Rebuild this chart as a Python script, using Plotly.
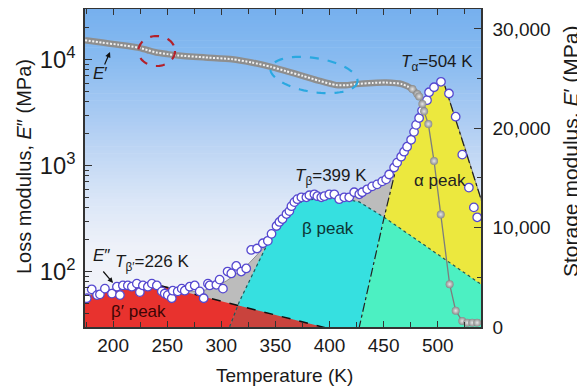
import numpy as np
import plotly.graph_objects as go

# ---------------- data ----------------
# Loss modulus E'' (open circles, left log axis)
eloss_T = [175.6, 180.2, 185.1, 187.8, 192.4, 198.9, 203.5, 206.3, 209.0, 213.6, 217.3, 221.9, 224.7,
           227.5, 232.1, 235.8, 240.4, 245.0, 247.7, 250.5, 254.2, 255.1, 259.7, 263.4, 266.2, 270.8,
           275.4, 280.0, 283.7, 287.6, 289.2, 295.4, 298.4, 301.5, 305.8, 309.2, 313.8, 318.4, 323.0,
           327.6, 333.0, 338.4, 343.0, 346.4, 351.0, 353.7, 356.5, 360.2, 362.9, 364.8, 367.5, 370.3,
           374.0, 378.6, 381.4, 386.0, 388.7, 392.4, 395.2, 399.8, 404.4, 409.0, 413.6, 418.2, 422.8,
           427.5, 430.2, 434.8, 439.4, 444.0, 448.7, 452.3, 455.1, 459.7, 462.5, 466.2, 468.9, 471.7,
           475.4, 478.1, 480.0, 482.8, 485.5, 490.1, 492.0, 496.6, 503.0, 510.4, 516.6, 522.7, 528.8,
           533.4, 536.5]
eloss_v = [56, 68, 60, 61, 69, 62, 72, 60, 74, 74, 72, 77, 64,
           74, 72, 77, 74, 65, 62, 60, 56, 66, 65, 69, 66, 72,
           74, 65, 56, 77, 74, 75, 84, 69, 100, 96, 113, 100, 107,
           160, 165, 185, 195, 227, 269, 294, 313, 349, 372, 414, 452, 482,
           502, 502, 525, 536, 514, 502, 514, 536, 536, 482, 502, 502, 560,
           536, 560, 597, 637, 665, 709, 741, 824, 959, 1067, 1213, 1352, 1507,
           1750, 2080, 2420, 2810, 3300, 4140, 4920, 5480, 6170, 4786, 2890, 1268, 620,
           403, 325]

# Storage modulus E' (grey beads, right linear axis)
estor_T = [174, 190, 205, 223, 232, 240, 250, 260, 285, 310, 328, 346, 360, 375, 390, 406, 415,
           424, 440, 452, 467, 476.6, 481.2, 482.8, 485.8, 487.4, 491.3, 496.6, 502.8, 511.0,
           516.6, 522.7, 527.3, 531.9, 536.5]
estor_v = [28860, 28620, 28400, 28120, 27850, 27620, 27460, 27330, 27130, 26950, 26620, 26180,
           25740, 25280, 24790, 24340, 24330, 24440, 24560, 24600, 24440, 23940, 23440, 23200,
           22440, 21700, 20430, 16700, 11330, 4310, 1640, 600, 430, 430, 430]
rope_end_T = 481.2      # dense "bead rope" up to here, separate beads after
bead_start_T = 476.6

# Fitted peaks (log axis)
red_T = [165, 174, 180, 190, 200, 210, 220, 230, 243, 260, 280, 300, 320, 340, 360, 380, 394, 405]
red_v = [54, 58, 61, 65, 69, 72, 74, 75, 74, 66.8, 59.3, 52.6, 46.7, 41.4, 36.7, 32.6, 30, 28]

cyan_T = [300, 307.6, 316.6, 325, 335, 342.7, 348, 354, 360, 369, 378, 397, 415, 427.5, 450.5,
          470, 490, 510, 525, 545]
cyan_v = [25, 30, 52, 78, 130, 183, 219, 292, 361, 432, 475, 489, 482, 454, 325,
          236, 170, 122, 96, 70]

yellow_T = [420, 427.5, 450.5, 461.6, 473.5, 484.3, 493.5, 502.8, 505.8, 525.8, 538, 545]
yellow_v = [20, 30, 325, 953, 1816, 3000, 5140, 6140, 5970, 1413, 560, 330]

# Sum of fitted peaks (grey region upper edge)
fit_T = [165, 174, 190, 210, 226, 243, 260, 275, 285, 295, 305, 315, 325, 335, 342, 348, 354,
         360, 369, 378, 397, 415, 427.5, 440, 450, 461.6, 473.5, 484.3, 493.5, 502.8, 505.8,
         525.8, 538, 545]
fit_v = [55, 58, 65, 72, 75, 74, 68, 65, 67, 72, 82, 97, 118, 150, 180, 225, 292,
         361, 440, 485, 500, 495, 515, 620, 750, 960, 1816, 3000, 5140, 6140, 5970,
         1413, 560, 330]

# ---------------- geometry (page has an 8px body margin) ----------------
OFF = 8
W, H = 577, 384
L, T_ = 85 - OFF, 9 - OFF
PR, PB = 481 - OFF, 327 - OFF          # plot right / bottom in figure px
R, B = W - PR, H - PB
PW, PH = PR - L, PB - T_


def px2paper(x, y):
    """page pixel -> paper coordinates"""
    return (x - OFF - L) / PW, (PB - (y - OFF)) / PH


def band(T, v, floor=10):
    return list(T) + [T[-1], T[0]], list(v) + [floor, floor]


def overlap(Ta, va, Tb, vb, n=400):
    lo, hi = max(Ta[0], Tb[0]), min(Ta[-1], Tb[-1])
    g = np.linspace(lo, hi, n)
    la = np.interp(g, Ta, np.log10(va))
    lb = np.interp(g, Tb, np.log10(vb))
    return g, 10 ** np.minimum(la, lb)


fig = go.Figure()

# grey region (sum)
gx, gy = band(fit_T, fit_v)
fig.add_trace(go.Scatter(x=gx, y=gy, fill='toself', fillcolor='#bcbcbc', mode='none', hoverinfo='skip'))
# red, cyan, yellow peaks
for T, v, c in [(red_T, red_v, '#e8322e'), (cyan_T, cyan_v, '#36e0e0'), (yellow_T, yellow_v, '#ece83e')]:
    px_, py_ = band(T, v)
    fig.add_trace(go.Scatter(x=px_, y=py_, fill='toself', fillcolor=c, mode='none', hoverinfo='skip'))
# overlaps
for (Ta, va, Tb, vb, c) in [(red_T, red_v, cyan_T, cyan_v, '#c9433d'),
                            (cyan_T, cyan_v, yellow_T, yellow_v, '#4cf0c2')]:
    g, m = overlap(Ta, va, Tb, vb)
    px_, py_ = band(g, m)
    fig.add_trace(go.Scatter(x=px_, y=py_, fill='toself', fillcolor=c, mode='none', hoverinfo='skip'))

# outlines
fig.add_trace(go.Scatter(x=fit_T, y=fit_v, mode='lines', line=dict(color='#8c8c8c', width=1), hoverinfo='skip'))
ri = [i for i, t in enumerate(red_T) if t >= 243]
fig.add_trace(go.Scatter(x=[red_T[i] for i in ri], y=[red_v[i] for i in ri], mode='lines',
                         line=dict(color='#111', width=1.5, dash='dash'), hoverinfo='skip'))
fig.add_trace(go.Scatter(x=cyan_T, y=cyan_v, mode='lines',
                         line=dict(color='#1d5a5a', width=1.2, dash='dot'), hoverinfo='skip'))
fig.add_trace(go.Scatter(x=yellow_T, y=yellow_v, mode='lines',
                         line=dict(color='#222', width=1.2, dash='dashdot'), hoverinfo='skip'))

# E'' data
fig.add_trace(go.Scatter(x=eloss_T, y=eloss_v, mode='markers',
                         marker=dict(symbol='circle', size=8.5, color='white',
                                     line=dict(color='#5548d0', width=1.3)), hoverinfo='skip'))

# E' on right axis
fig.add_trace(go.Scatter(x=estor_T, y=estor_v, yaxis='y2', mode='lines',
                         line=dict(color='#7d7d7d', width=1.3), hoverinfo='skip'))
rT = [t for t in estor_T if t <= rope_end_T]
rV = [v for t, v in zip(estor_T, estor_v) if t <= rope_end_T]
fig.add_trace(go.Scatter(x=rT, y=rV, yaxis='y2', mode='lines',
                         line=dict(color='#8e8e8e', width=6.5, shape='spline', smoothing=0.6), hoverinfo='skip'))
fig.add_trace(go.Scatter(x=rT, y=rV, yaxis='y2', mode='lines',
                         line=dict(color='#f2f2f2', width=2, dash='2px,1.6px', shape='spline', smoothing=0.6),
                         hoverinfo='skip'))
bT = [t for t in estor_T if t >= bead_start_T]
bV = [v for t, v in zip(estor_T, estor_v) if t >= bead_start_T]
fig.add_trace(go.Scatter(x=bT, y=bV, yaxis='y2', mode='markers',
                         marker=dict(size=8, color='#8a8a8a', gradient=dict(type='radial', color='#e6e6e6'),
                                     line=dict(width=0)), hoverinfo='skip'))

# ---------------- background gradient ----------------
stops = [(0.0, (244, 245, 250)), (0.25, (238, 241, 249)), (0.4, (218, 230, 247)),
         (0.62, (178, 207, 243)), (0.85, (135, 186, 240)), (1.0, (118, 176, 238))]
shapes = []
N = 90
for i in range(N):
    y0, y1 = i / N, (i + 1) / N
    yc = (y0 + y1) / 2
    for j in range(len(stops) - 1):
        if stops[j][0] <= yc <= stops[j + 1][0]:
            f = (yc - stops[j][0]) / (stops[j + 1][0] - stops[j][0])
            c = [round(stops[j][1][k] + f * (stops[j + 1][1][k] - stops[j][1][k])) for k in range(3)]
            break
    shapes.append(dict(type='rect', xref='paper', yref='paper', x0=0, x1=1, y0=y0, y1=min(1, y1 + 0.002),
                       fillcolor='rgb(%d,%d,%d)' % tuple(c), line=dict(width=0), layer='below'))


def ellipse(cx, cy, a, b, ang, color):
    th = np.radians(ang)
    ph = np.linspace(0, 2 * np.pi, 80)
    xs = cx + a * np.cos(ph) * np.cos(th) - b * np.sin(ph) * np.sin(th)
    ys = cy + a * np.cos(ph) * np.sin(th) + b * np.sin(ph) * np.cos(th)
    pts = [px2paper(x, y) for x, y in zip(xs, ys)]
    path = 'M ' + ' L '.join('%.4f,%.4f' % p for p in pts) + ' Z'
    return dict(type='path', xref='paper', yref='paper', path=path,
                line=dict(color=color, width=2.2, dash='dash'), layer='above')


shapes.append(ellipse(156.7, 51, 18.3, 15, 0, '#b3202a'))
shapes.append(ellipse(314, 75, 44, 17, 9, '#2aa8e0'))

FONT = 'Liberation Sans, Arial, sans-serif'
ann = []


def txt(text, xpx, ypx, size=17, color='#1a1a1a', angle=0):
    xp, yp = px2paper(xpx, ypx)
    ann.append(dict(text=text, x=xp, y=yp, xref='paper', yref='paper', showarrow=False,
                    xanchor='center', yanchor='middle', textangle=angle,
                    font=dict(size=size, color=color, family=FONT)))


txt('<i>T</i><sub>α</sub>=504 K', 437, 63)
txt('<i>T</i><sub>β</sub>=399 K', 331, 177)
txt('<i>T</i><sub>β′</sub>=226 K', 152, 263)
txt('<i>E</i>″', 101, 256)
txt('<i>E</i>′', 100, 74)
txt('β′ peak', 138, 311, color='#3d0505')
txt('β peak', 328, 228, color='#0d3535')
txt('α peak', 440, 180, color='#222')
txt('Temperature (K)', 284, 375, size=19)
txt('Loss modulus, <i>E</i>″ (MPa)', 24, 167, size=20, angle=-90)
txt('Storage modulus, <i>E</i>′ (MPa)', 570, 152, size=21, angle=-90)

for (hx, hy, ax, ay) in [(113, 283, -11, -13), (110, 52, -6, 14)]:
    xp, yp = px2paper(hx, hy)
    ann.append(dict(text='', x=xp, y=yp, xref='paper', yref='paper', showarrow=True,
                    ax=ax, ay=ay, arrowhead=2, arrowsize=0.9, arrowwidth=1.2, arrowcolor='#111'))

axcol = '#333'
fig.update_layout(
    width=W, height=H, margin=dict(l=L, r=R, t=T_, b=B, pad=0),
    paper_bgcolor='white', plot_bgcolor='white', showlegend=False,
    font=dict(family=FONT, size=19, color='#1a1a1a'),
    shapes=shapes, annotations=ann,
    xaxis=dict(range=[174, 540], dtick=50, tick0=200, ticks='inside', ticklen=6, tickwidth=1.2,
               tickcolor=axcol, showline=True, linecolor=axcol, linewidth=1.5, mirror='ticks',
               showgrid=False, zeroline=False, tickfont=dict(size=19), automargin=False,
               minor=dict(dtick=25, ticks='inside', ticklen=5, tickcolor=axcol, showgrid=False)),
    yaxis=dict(type='log', range=[np.log10(30), np.log10(30000)], dtick=1, exponentformat='power',
               ticks='inside', ticklen=7, tickwidth=1.2, tickcolor=axcol, showline=True,
               linecolor=axcol, linewidth=1.5, showgrid=False, zeroline=False, tickfont=dict(size=19),
               ticklabelstandoff=4, automargin=False,
               minor=dict(ticks='inside', ticklen=4, dtick='D1', tickcolor=axcol, showgrid=False)),
    yaxis2=dict(overlaying='y', side='right', range=[0, 32000], dtick=10000, tickformat=',d',
                ticks='inside', ticklen=7, tickwidth=1.2, tickcolor=axcol, showline=True,
                linecolor=axcol, linewidth=1.5, showgrid=False, zeroline=False, tickfont=dict(size=19),
                ticklabelstandoff=6, automargin=False,
                minor=dict(dtick=5000, ticks='inside', ticklen=4, tickcolor=axcol, showgrid=False)),
)

fig.write_html('out.html')
